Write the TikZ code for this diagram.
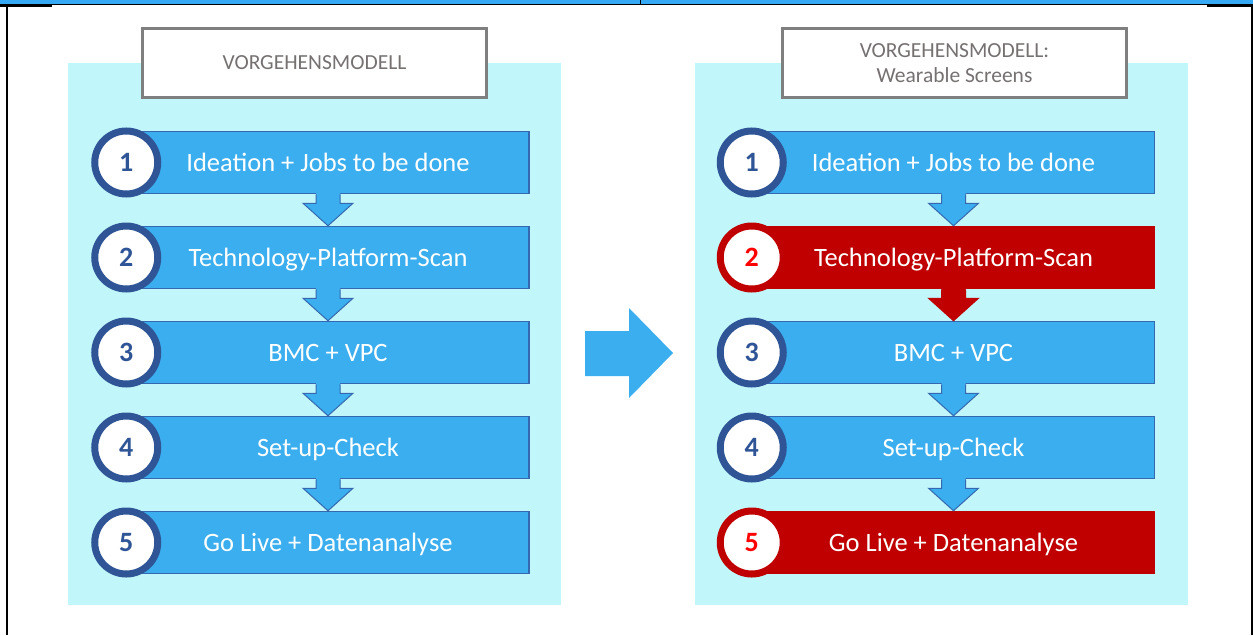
\documentclass[tikz,border=0pt]{standalone}
\usepackage{fontspec}
\setmainfont{Carlito}
\usetikzlibrary{calc}

\definecolor{topblue}{HTML}{35A9F4}
\definecolor{panelbg}{HTML}{C1F6FA}
\definecolor{barblue}{HTML}{3AAEEE}
\definecolor{barline}{HTML}{3568B0}
\definecolor{darkblue}{HTML}{2F5597}
\definecolor{barred}{HTML}{C00000}
\definecolor{numred}{HTML}{FF0000}
\definecolor{framegray}{HTML}{7F7F7F}
\definecolor{titlegray}{HTML}{767171}

% down arrow between two step bars: #1 upper bar, #2 lower bar, #3 fill, #4 outline
\newcommand\stepconn[4]{%
  \fill[#3] ($(#1.south)+(-12,-4)$) -- ($(#1.south)+(-12,9)$) -- ($(#1.south)+(-25,9)$)
    -- (#2.north) -- ($(#1.south)+(25,9)$) -- ($(#1.south)+(12,9)$)
    -- ($(#1.south)+(12,-4)$) -- cycle;
  \draw[#4, line width=1, line join=miter] ($(#1.south)+(-12,0)$) -- ($(#1.south)+(-12,9)$)
    -- ($(#1.south)+(-25,9)$) -- (#2.north) -- ($(#1.south)+(25,9)$)
    -- ($(#1.south)+(12,9)$) -- ($(#1.south)+(12,0)$);
}

\begin{document}
\begin{tikzpicture}[x=1pt,y=-1pt,
  stepbar/.style={draw=barline, line width=1.5, fill=barblue, minimum width=402,
    minimum height=62, inner sep=0, text=white, text height=17pt, text depth=0pt,
    font=\fontsize{26.5}{30}\selectfont},
  redbar/.style={stepbar, draw=barred, fill=barred},
  numblue/.style={circle, draw=darkblue, line width=7, fill=white, minimum size=63,
    inner sep=0, text=darkblue, text height=18pt, text depth=0pt,
    font=\bfseries\fontsize{28}{28}\selectfont},
  numred/.style={numblue, draw=barred, text=numred},
  titlebox/.style={draw=framegray, line width=3, fill=white, minimum width=344,
    minimum height=69, inner sep=0, text=titlegray, align=center,
    font=\fontsize{21.5}{25}\selectfont}]
\useasboundingbox (0,0) rectangle (1253,635);

% page frame
\fill[topblue] (0,0) rectangle (1253,4.5);
\draw[line width=0.8] (0,4.5) -- (1253,4.5);
\draw[line width=0.8] (640,0) -- (640,4.5);
\draw[line width=2] (0,5.5) -- (52,5.5);
\draw[line width=2] (1207,5.5) -- (1253,5.5);
\draw[line width=2] (7,4.5) -- (7,635);
\draw[line width=2] (1252,4.5) -- (1252,635);

% panels
\fill[panelbg] (68,63) rectangle (561,605);
\fill[panelbg] (695,63) rectangle (1188,605);

\node[titlebox] (tl) at (314.5,63) {VORGEHENSMODELL};
\node[titlebox] (tr) at (954.5,63) {VORGEHENSMODELL:\\Wearable Screens};

% left process
\node[stepbar] (l1) at (328,162.5) {Ideation + Jobs to be done};
\node[stepbar] (l2) at (328,257.5) {Technology-Platform-Scan};
\node[stepbar] (l3) at (328,352.5) {BMC + VPC};
\node[stepbar] (l4) at (328,447.5) {Set-up-Check};
\node[stepbar] (l5) at (328,542.5) {Go Live + Datenanalyse};
\stepconn{l1}{l2}{barblue}{barline}
\stepconn{l2}{l3}{barblue}{barline}
\stepconn{l3}{l4}{barblue}{barline}
\stepconn{l4}{l5}{barblue}{barline}
\node[numblue] (ln1) at (l1.west) {1};
\node[numblue] (ln2) at (l2.west) {2};
\node[numblue] (ln3) at (l3.west) {3};
\node[numblue] (ln4) at (l4.west) {4};
\node[numblue] (ln5) at (l5.west) {5};

% right process
\node[stepbar] (r1) at (953.5,162.5) {Ideation + Jobs to be done};
\node[redbar]  (r2) at (953.5,257.5) {Technology-Platform-Scan};
\node[stepbar] (r3) at (953.5,352.5) {BMC + VPC};
\node[stepbar] (r4) at (953.5,447.5) {Set-up-Check};
\node[redbar]  (r5) at (953.5,542.5) {Go Live + Datenanalyse};
\stepconn{r1}{r2}{barblue}{barline}
\stepconn{r2}{r3}{barred}{barred}
\stepconn{r3}{r4}{barblue}{barline}
\stepconn{r4}{r5}{barblue}{barline}
\node[numblue] (rn1) at (r1.west) {1};
\node[numred]  (rn2) at (r2.west) {2};
\node[numblue] (rn3) at (r3.west) {3};
\node[numblue] (rn4) at (r4.west) {4};
\node[numred]  (rn5) at (r5.west) {5};

% transition arrow
\fill[barblue] (585,331) -- (629,331) -- (629,308) -- (673,353) -- (629,398)
  -- (629,376) -- (585,376) -- cycle;
\end{tikzpicture}
\end{document}
